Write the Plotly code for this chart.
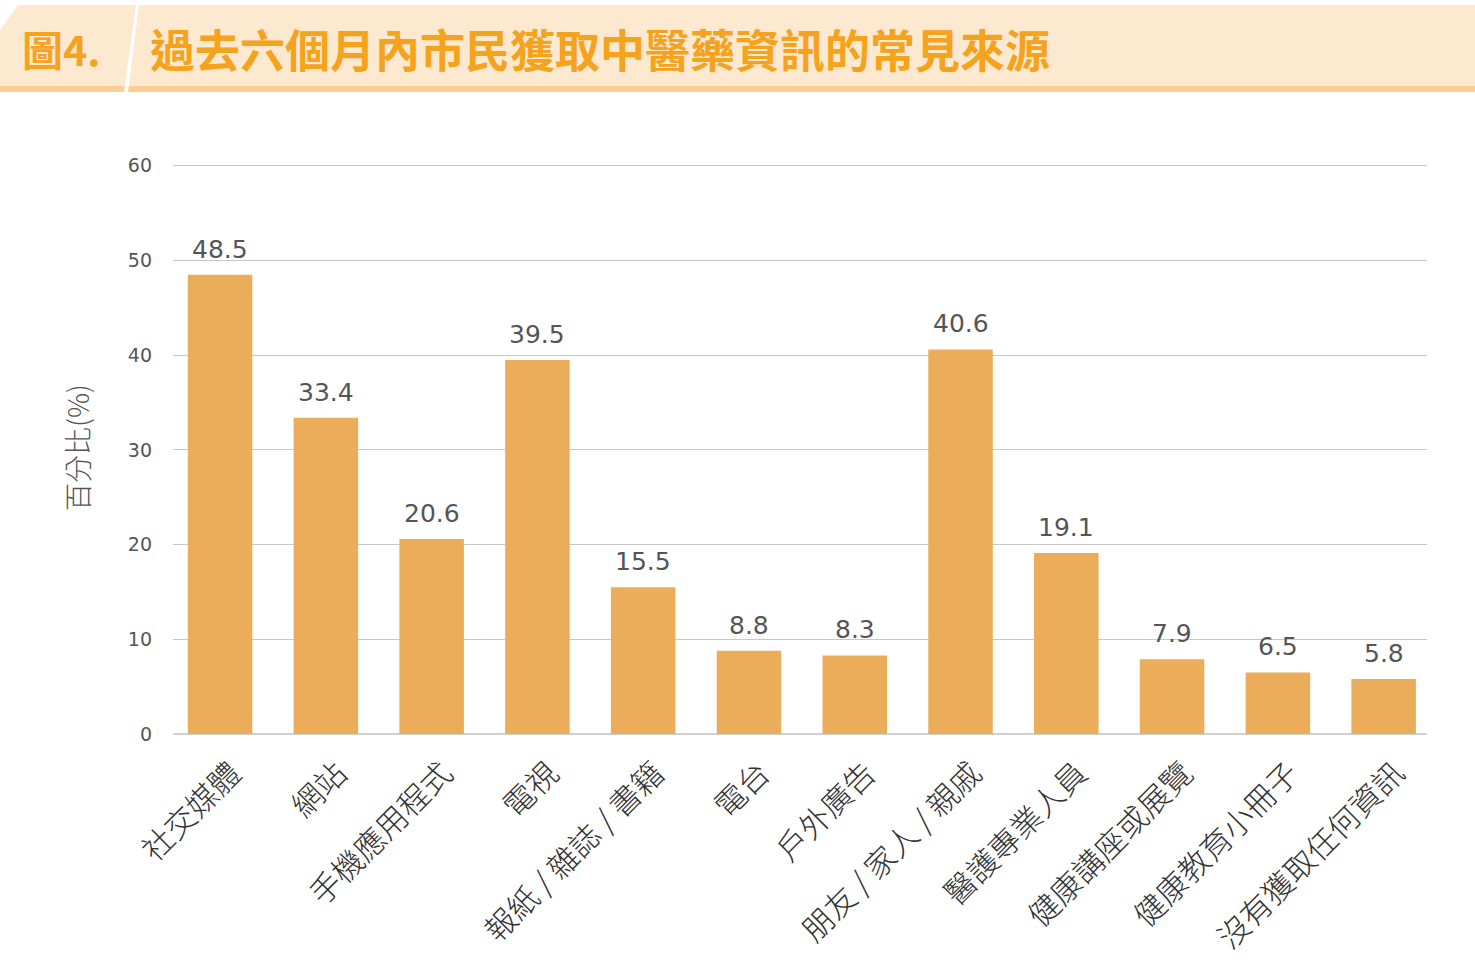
import plotly.graph_objects as go

categories = ["社交媒體", "網站", "手機應用程式", "電視", "報紙 / 雜誌 / 書籍", "電台",
              "戶外廣告", "朋友 / 家人 / 親戚", "醫護專業人員", "健康講座或展覽",
              "健康教育小冊子", "沒有獲取任何資訊"]
values = [48.5, 33.4, 20.6, 39.5, 15.5, 8.8, 8.3, 40.6, 19.1, 7.9, 6.5, 5.8]
y_ticks = [0, 10, 20, 30, 40, 50, 60]

W, H = 1475, 975
L, R, T, B = 173, 48, 161, 241
pw, ph = W - L - R, H - T - B

def px(x):
    return (x - L) / pw

def py(y):
    return (H - B - y) / ph

BAR = "#EBAD5A"
NUM_FONT = "DejaVu Sans, sans-serif"
CJK = "Noto Sans CJK TC, Noto Sans CJK SC, sans-serif"

fig = go.Figure()
fig.add_trace(go.Bar(x=categories, y=values, marker=dict(color=BAR, line=dict(width=0)),
                     hoverinfo="x+y", width=0.61))

for c, v in zip(categories, values):
    fig.add_annotation(x=c, y=v, text=f"{v:.1f}", showarrow=False, yanchor="bottom",
                       yshift=9, font=dict(family=NUM_FONT, size=25, color="#555555"))

# header shapes
peach = "#FDE8D0"
strip = "#FBCF92"
shapes = [
    dict(type="path", xref="paper", yref="paper",
         path=f"M {px(0)} {py(30)} L {px(18)} {py(5)} L {px(136)} {py(5)} L {px(124)} {py(92)} L {px(0)} {py(92)} Z",
         fillcolor=peach, line=dict(width=0), layer="below"),
    dict(type="path", xref="paper", yref="paper",
         path=f"M {px(139)} {py(5)} L {px(W)} {py(5)} L {px(W)} {py(92)} L {px(128)} {py(92)} Z",
         fillcolor=peach, line=dict(width=0), layer="below"),
    dict(type="path", xref="paper", yref="paper",
         path=f"M {px(0)} {py(86)} L {px(125)} {py(86)} L {px(124)} {py(92)} L {px(0)} {py(92)} Z",
         fillcolor=strip, line=dict(width=0), layer="below"),
    dict(type="path", xref="paper", yref="paper",
         path=f"M {px(129)} {py(86)} L {px(W)} {py(86)} L {px(W)} {py(92)} L {px(128)} {py(92)} Z",
         fillcolor=strip, line=dict(width=0), layer="below"),
]

fig.add_annotation(xref="paper", yref="paper", x=px(20), y=py(48), xanchor="left", yanchor="middle",
                   text="<b>圖4.</b>", showarrow=False,
                   font=dict(family=CJK, size=41, color="#F5A21C"))
fig.add_annotation(xref="paper", yref="paper", x=px(148), y=py(48), xanchor="left", yanchor="middle",
                   text="<b>過去六個月內市民獲取中醫藥資訊的常見來源</b>", showarrow=False,
                   font=dict(family=CJK, size=45, color="#F5A21C"))

fig.update_layout(
    width=W, height=H,
    margin=dict(l=L, r=R, t=T, b=B, autoexpand=False),
    paper_bgcolor="white", plot_bgcolor="white",
    showlegend=False,
    shapes=shapes,
    xaxis=dict(range=[-0.445, 11.41], tickangle=-45,
               tickfont=dict(family=CJK, size=31, color="#333333", weight=300),
               showgrid=False, showline=False, ticks="", automargin=False,
               ticklabelstandoff=14, ticklabelshift=12),
    yaxis=dict(range=[0, 60.5], tickvals=y_ticks, ticktext=[str(t) for t in y_ticks],
               tickfont=dict(family=NUM_FONT, size=19, color="#555555"),
               gridcolor="#C8C8C8", gridwidth=1, zeroline=True, zerolinecolor="#D0D0D0",
               zerolinewidth=2, ticklabelstandoff=20, automargin=False,
               title=dict(text="百分比(%)", font=dict(family=CJK, size=28, color="#555555", weight=300),
                          standoff=30)),
)

fig.write_html("out.html")
